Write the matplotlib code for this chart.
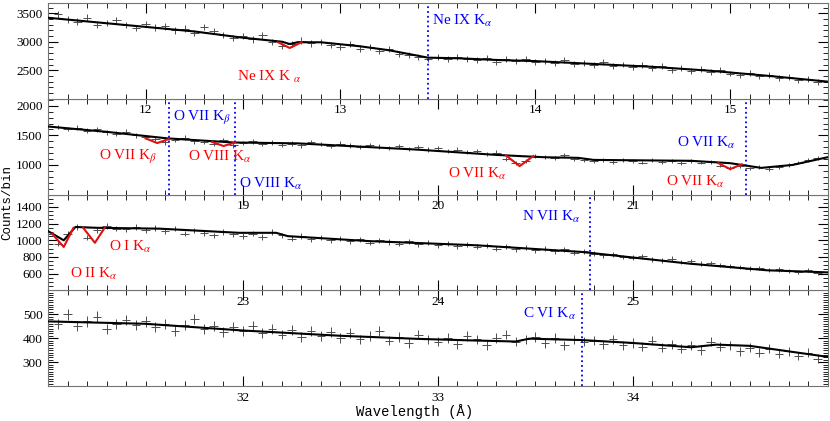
import numpy as np
import matplotlib.pyplot as plt
from matplotlib.ticker import MultipleLocator, AutoMinorLocator, FixedLocator

plt.rcParams['font.family'] = 'Liberation Serif'
plt.rcParams['mathtext.fontset'] = 'stix'

# ---- panel ranges ----
xlims = [(11.5, 15.5), (18.0, 22.0), (22.0, 26.0), (31.0, 35.0)]
xticks = [[12, 13, 14, 15], [19, 20, 21], [23, 24, 25], [32, 33, 34]]
ylims = [(2000, 3680), (500, 2120), (400, 1550), (200, 600)]
yticks = [[2500, 3000, 3500], [1000, 1500, 2000], [600, 800, 1000, 1200, 1400], [300, 400, 500]]
yminor = [5, 5, 4, 10]

# ---- observed counts (bin step 0.05 A) ----
start = [11.5, 18.0, 22.0, 31.0]
counts1 = [3430, 3480, 3390, 3350, 3420, 3300, 3330, 3380, 3290, 3240,
           3310, 3250, 3270, 3200, 3230, 3150, 3260, 3190, 3120, 3060,
           3100, 3040, 3110, 3000, 2930, 2960, 3020, 2970, 3000, 2940,
           2900, 2960, 2880, 2910, 2840, 2870, 2780, 2760, 2740, 2700,
           2730, 2690, 2740, 2700, 2680, 2720, 2650, 2690, 2660, 2700,
           2640, 2660, 2620, 2680, 2610, 2630, 2590, 2640, 2570, 2600,
           2560, 2590, 2540, 2580, 2510, 2540, 2490, 2520, 2470, 2500,
           2440, 2410, 2450, 2390, 2420, 2360, 2380, 2320, 2350, 2290]
counts2 = [1660, 1640, 1610, 1630, 1580, 1600, 1550, 1530, 1560, 1500,
           1470, 1440, 1380, 1420, 1460, 1400, 1390, 1350, 1420, 1330,
           1370, 1400, 1350, 1380, 1340, 1360, 1330, 1390, 1350, 1320,
           1360, 1330, 1300, 1340, 1310, 1290, 1320, 1270, 1300, 1260,
           1280, 1240, 1260, 1220, 1240, 1190, 1210, 1100, 1030, 1060,
           1150, 1130, 1120, 1160, 1100, 1090, 1060, 1080, 1050, 1090,
           1070, 1040, 1080, 1050, 1060, 1030, 1070, 1040, 1050, 990,
           950, 980, 940, 960, 930, 970, 1000, 1040, 1080, 1120]
counts3 = [1080, 960, 1080, 1160, 1030, 1120, 1170, 1140, 1130, 1160,
           1120, 1150, 1110, 1140, 1080, 1120, 1090, 1060, 1100, 1070,
           1050, 1080, 1040, 1100, 1060, 1020, 1050, 1010, 1030, 1000,
           1020, 990, 1010, 970, 1000, 980, 960, 990, 950, 970,
           940, 960, 930, 950, 920, 940, 900, 930, 890, 910,
           880, 900, 870, 890, 850, 870, 840, 820, 830, 800,
           790, 810, 770, 760, 780, 740, 750, 720, 730, 700,
           690, 680, 660, 670, 640, 650, 630, 620, 640, 610]
counts4 = [480, 460, 500, 450, 470, 490, 440, 460, 475, 455,
           470, 445, 460, 430, 455, 480, 440, 450, 425, 445,
           430, 450, 420, 440, 415, 435, 405, 430, 410, 425,
           400, 420, 395, 410, 430, 390, 405, 380, 415, 395,
           385, 400, 375, 410, 395, 370, 400, 415, 385, 395,
           405, 380, 400, 370, 395, 385, 390, 375, 395, 370,
           380, 365, 390, 360, 375, 355, 370, 350, 385, 365,
           370, 345, 360, 340, 355, 335, 345, 325, 340, 315]
counts = [counts1, counts2, counts3, counts4]

# ---- model continuum ----
model_x = [
    [11.5, 11.75, 12.0, 12.25, 12.5, 12.7, 12.74, 12.78, 12.9, 13.1, 13.25, 13.45, 13.6, 13.8, 14.0, 14.3, 14.6, 14.9, 15.2, 15.5],
    [18.0, 18.3, 18.61, 18.95, 19.28, 19.89, 20.3, 20.42, 20.55, 20.72, 20.8, 21.3, 21.5, 21.66, 21.82, 22.0],
    [22.0, 22.08, 22.14, 22.25, 22.57, 22.98, 23.17, 23.23, 23.65, 24.2, 24.74, 25.29, 25.69, 26.0],
    [31.0, 31.5, 32.0, 32.5, 32.9, 33.2, 33.4, 33.47, 33.74, 34.0, 34.3, 34.43, 34.6, 35.0],
]
model_y = [
    [3420, 3340, 3260, 3180, 3070, 3000, 2960, 2990, 2990, 2920, 2850, 2720, 2710, 2680, 2660, 2610, 2560, 2490, 2400, 2300],
    [1650, 1560, 1450, 1380, 1365, 1260, 1170, 1150, 1130, 1120, 1085, 1070, 1030, 950, 1000, 1130],
    [1110, 1000, 1160, 1150, 1140, 1090, 1090, 1050, 990, 940, 860, 720, 640, 615],
    [470, 460, 432, 410, 397, 390, 386, 398, 392, 380, 362, 373, 368, 322],
]

# ---- red absorption components ----
red_x = [[[12.68, 12.74, 12.80]],
         [[18.50, 18.56, 18.62], [18.84, 18.90, 18.96], [20.35, 20.42, 20.49], [21.44, 21.50, 21.56]],
         [[22.02, 22.08, 22.13], [22.18, 22.24, 22.29]],
         []]
red_y = [[[2990, 2890, 2990]],
         [[1450, 1370, 1440], [1390, 1320, 1380], [1160, 980, 1150], [1030, 930, 1010]],
         [[1080, 920, 1150], [1150, 970, 1150]],
         []]

# ---- line labels ----
blue_lines = [[13.45], [18.62, 18.96, 21.58], [24.78], [33.74]]
blue_text = [[(13.47, 3360, 'Ne IX K$_\\alpha$', 'left')],
             [(18.64, 1800, 'O VII K$_\\beta$', 'left'), (18.98, 680, 'O VIII K$_\\alpha$', 'left'),
              (21.23, 1380, 'O VII K$_\\alpha$', 'left')],
             [(24.43, 1280, 'N VII K$_\\alpha$', 'left')],
             [(33.71, 500, 'C VI K$_\\alpha$', 'right')]]
red_text = [[(12.47, 2380, 'Ne IX K $_\\alpha$')],
            [(18.26, 1130, 'O VII K$_\\beta$'), (18.72, 1130, 'O VIII K$_\\alpha$'),
             (20.05, 850, 'O VII K$_\\alpha$'), (21.17, 720, 'O VII K$_\\alpha$')],
            [(22.31, 920, 'O I K$_\\alpha$'), (22.11, 600, 'O II K$_\\alpha$')],
            []]

fig = plt.figure(figsize=(8.3, 4.21), dpi=100)
axes = fig.subplots(4, 1, gridspec_kw=dict(hspace=0))
fig.subplots_adjust(left=0.058, right=0.997, top=0.993, bottom=0.083)

for i, ax in enumerate(axes):
    x = start[i] + 0.05 * np.arange(len(counts[i]))
    y = np.array(counts[i])
    ax.errorbar(x, y, xerr=0.022, yerr=np.sqrt(y), fmt='none', ecolor='0.3', elinewidth=0.7)
    ax.plot(model_x[i], model_y[i], color='black', lw=1.5, zorder=3)
    for rx, ry in zip(red_x[i], red_y[i]):
        ax.plot(rx, ry, color='#e01010', lw=1.5, zorder=4)
    for bl in blue_lines[i]:
        ax.axvline(bl, color='blue', ls=':', lw=1.3)
    for tx, ty, s, ha in blue_text[i]:
        ax.text(tx, ty, s, color='blue', fontsize=11, ha=ha, va='center')
    for tx, ty, s in red_text[i]:
        ax.text(tx, ty, s, color='red', fontsize=11, ha='left', va='center')
    ax.set_xlim(xlims[i])
    ax.set_ylim(ylims[i])
    ax.set_yticks(yticks[i])
    ax.xaxis.set_major_locator(FixedLocator(xticks[i]))
    ax.xaxis.set_minor_locator(MultipleLocator(0.1))
    ax.yaxis.set_minor_locator(AutoMinorLocator(yminor[i]))
    ax.tick_params(which='both', direction='in', top=True, right=True, labelsize=9.5, pad=4)
    ax.tick_params(which='major', length=7)
    ax.tick_params(which='minor', length=3.5)
    for sp in ax.spines.values():
        sp.set_color('0.45')
    ax.set_zorder(10 - i)

fig.text(0.001, 0.52, 'Counts/bin', rotation=90, va='center', ha='left',
         fontsize=9, family='Liberation Mono')
fig.text(0.5, 0.005, 'Wavelength (Å)', ha='center', va='bottom',
         fontsize=10, family='Liberation Mono')

plt.savefig('out.png')
